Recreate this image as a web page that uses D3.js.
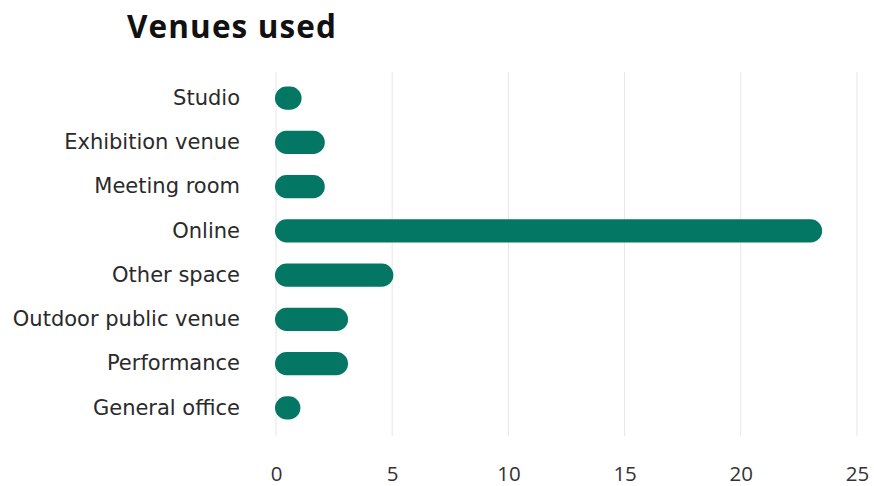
<!DOCTYPE html>
<html>
<head>
<meta charset="utf-8">
<script src="https://cdn.jsdelivr.net/npm/d3@7"></script>
<style>
  html, body { margin: 0; padding: 0; background: #fff; }
  svg { display: block; }
</style>
</head>
<body>
<svg id="chart" width="874" height="486"></svg>
<script>
// Venue usage counts
const categories = ["Studio", "Exhibition venue", "Meeting room", "Online", "Other space", "Outdoor public venue", "Performance", "General office"];
const values = [1.1, 2.1, 2.1, 23.5, 5.05, 3.1, 3.1, 1.05];
const tickValues = [0, 5, 10, 15, 20, 25];
const titleText = "Venues used";

const svg = d3.select("#chart");
const W = 874, H = 486;
const margin = { left: 276, right: 17, top: 76, bottom: 50 };

const x = d3.scaleLinear().domain([0, 25]).range([margin.left, W - margin.right]);
const y = d3.scaleBand().domain(categories).range([76, 430]).paddingInner(0.48).paddingOuter(0.24);

// Title
svg.append("text")
  .attr("x", 127).attr("y", 38)
  .style("font-family", "'Open Sans', sans-serif")
  .style("font-size", "31.5px").style("font-weight", 700).attr("fill", "#111")
  .attr("letter-spacing", 1.1)
  .text(titleText);

// Vertical gridlines
svg.append("g").selectAll("line").data(tickValues).join("line")
  .attr("x1", d => x(d)).attr("x2", d => x(d))
  .attr("y1", 72).attr("y2", 436)
  .attr("stroke", "#e6e6e6").attr("stroke-width", 1);

// Bottom axis labels
const xAxis = d3.axisBottom(x).tickValues(tickValues).tickSize(0).tickPadding(0);
const gx = svg.append("g").attr("transform", "translate(0,466)").call(xAxis);
gx.select(".domain").remove();
gx.selectAll("text")
  .style("font-family", "'Open Sans', sans-serif").style("font-size", "20.5px")
  .attr("fill", "#333");

// Category labels
const yAxis = d3.axisLeft(y).tickSize(0).tickPadding(0);
const gy = svg.append("g").attr("transform", "translate(240,0)").call(yAxis);
gy.select(".domain").remove();
gy.selectAll("text")
  .style("font-family", "'DejaVu Sans', sans-serif").style("font-size", "21px")
  .attr("fill", "#2a2a2a");

// Rounded bars
const rows = categories.map((c, i) => ({ c, v: values[i] }));
svg.append("g").selectAll("rect").data(rows).join("rect")
  .attr("x", x(0) - 1)
  .attr("y", d => y(d.c))
  .attr("width", d => x(d.v) - x(0) + 1)
  .attr("height", y.bandwidth())
  .attr("rx", y.bandwidth() / 2)
  .attr("fill", "#047664");
</script>
</body>
</html>
